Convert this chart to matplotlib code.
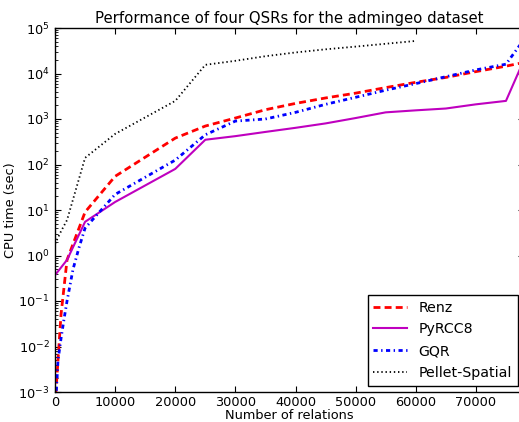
import matplotlib
matplotlib.use("Agg")
import matplotlib.pyplot as plt
from matplotlib.ticker import LogLocator

plt.rcParams.update({
    "font.family": "DejaVu Sans",
    "mathtext.fontset": "dejavusans",
    "xtick.direction": "in",
    "ytick.direction": "in",
    "xtick.top": True,
    "ytick.right": True,
    "xtick.major.size": 4,
    "ytick.major.size": 4,
    "ytick.minor.size": 2,
    "xtick.major.pad": 3,
    "ytick.major.pad": 4,
    "lines.scale_dashes": False,
    "axes.linewidth": 1.0,
})

title = "Performance of four QSRs for the admingeo dataset"
xlabel = "Number of relations"
ylabel = "CPU time (sec)"

renz_x = [0, 500, 1000, 2000, 5000, 10000, 20000, 25000, 30000, 35000, 40000,
          45000, 50000, 55000, 60000, 65000, 70000, 75000, 78000]
renz_y = [0.0005, 0.005, 0.05, 0.8, 9, 55, 380, 700, 1050, 1600, 2200,
          2900, 3700, 4900, 6400, 8200, 11000, 14500, 17500]

pyrcc8_x = [0, 2000, 5000, 10000, 20000, 25000, 30000, 35000, 40000, 45000,
            50000, 55000, 60000, 65000, 70000, 75000, 78000]
pyrcc8_y = [0.37, 0.8, 5.5, 15, 80, 350, 420, 520, 640, 800,
            1050, 1400, 1550, 1700, 2100, 2500, 20000]

gqr_x = [0, 500, 1000, 1500, 2000, 3000, 4000, 5000, 10000, 20000, 25000,
         30000, 35000, 40000, 45000, 50000, 55000, 60000, 65000, 70000, 75000, 78000]
gqr_y = [0.0003, 0.005, 0.015, 0.04, 0.1, 0.5, 1.5, 4, 22, 125, 450,
         900, 1000, 1400, 2100, 3000, 4300, 6000, 8500, 12000, 16000, 56000]

pellet_x = [0, 1000, 2000, 5000, 10000, 20000, 25000, 30000, 35000, 40000,
            45000, 50000, 55000, 60000]
pellet_y = [1.8, 3.4, 6, 140, 470, 2500, 15500, 19000, 24000, 29000,
            34000, 39000, 45000, 52000]

fig = plt.figure(figsize=(5.19, 4.22), dpi=100, facecolor="white")
ax = fig.add_axes([55/519, 30/422, 469/519, 364/422])

ax.plot(renz_x, renz_y, color=(1, 0, 0), lw=2, linestyle=(0, (5, 3)), label="Renz")
ax.plot(pyrcc8_x, pyrcc8_y, color=(0.75, 0, 0.75), lw=1.5, linestyle="-", label="PyRCC8")
ax.plot(gqr_x, gqr_y, color=(0, 0, 1), lw=2, linestyle=(0, (3, 2.5, 1, 2.5)), label="GQR")
ax.plot(pellet_x, pellet_y, color="black", lw=1.3, linestyle=(0, (1, 2)), label="Pellet-Spatial")

ax.set_yscale("log")
ax.set_ylim(1e-3, 1e5)
ax.set_xlim(0, 78000)
ax.set_xticks([0, 10000, 20000, 30000, 40000, 50000, 60000, 70000])
ax.yaxis.set_major_locator(LogLocator(base=10, numticks=20))
ax.yaxis.set_minor_locator(LogLocator(base=10, subs=range(2, 10), numticks=20))
ax.tick_params(labelsize=9.3)

ax.set_title(title, fontsize=10.7, pad=3.5)
ax.set_xlabel(xlabel, fontsize=9.3, labelpad=0)
ax.set_ylabel(ylabel, fontsize=9.3, labelpad=1)

leg = ax.legend(loc="lower right", fontsize=10.2, fancybox=False, framealpha=1,
                edgecolor="black", handlelength=2.4, borderaxespad=0.45,
                labelspacing=0.55)
leg.get_frame().set_linewidth(1.0)

fig.savefig("out.png", dpi=100, facecolor="white")
